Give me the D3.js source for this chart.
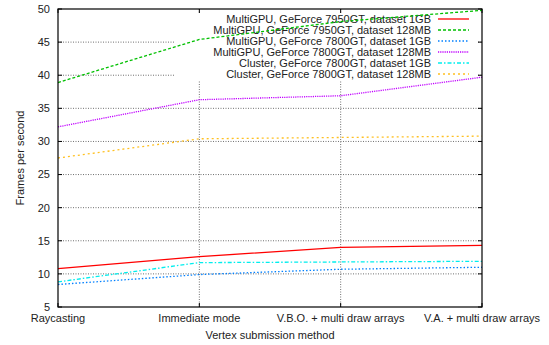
<!DOCTYPE html>
<html>
<head>
<meta charset="utf-8">
<script src="https://cdn.jsdelivr.net/npm/d3@7"></script>
<style>
  body { margin: 0; background: #fff; }
  svg { display: block; font-family: "Liberation Sans", Arial, sans-serif; }
  .line { fill: none; }
</style>
</head>
<body>
<svg></svg>
<script>
// categories on the x axis
var methods = ["Raycasting", "Immediate mode", "V.B.O. + multi draw arrays", "V.A. + multi draw arrays"];

// frames per second
var multi7950_1GB   = [10.8, 12.6, 14.0, 14.3];
var multi7950_128MB = [38.9, 45.4, 48.1, 49.8];
var multi7800_1GB   = [8.4, 9.9, 10.7, 11.0];
var multi7800_128MB = [32.2, 36.3, 36.9, 39.7];
var cluster_1GB     = [8.8, 11.7, 11.8, 11.9];
var cluster_128MB   = [27.5, 30.4, 30.6, 30.8];

var seriesNames = [
  "MultiGPU, GeForce 7950GT, dataset 1GB",
  "MultiGPU, GeForce 7950GT, dataset 128MB",
  "MultiGPU, GeForce 7800GT, dataset 1GB",
  "MultiGPU, GeForce 7800GT, dataset 128MB",
  "Cluster, GeForce 7800GT, dataset 1GB",
  "Cluster, GeForce 7800GT, dataset 128MB"
];
var yTicks = [5, 10, 15, 20, 25, 30, 35, 40, 45, 50];

var series = [multi7950_1GB, multi7950_128MB, multi7800_1GB, multi7800_128MB, cluster_1GB, cluster_128MB];
var colors = ["#ff0000", "#00c000", "#0080ff", "#c000ff", "#00eeee", "#ffc020"];
var dashes = [null, "3,2", "1.5,2", "1.2,1", "4,2,1.5,2", "2,3"];

var svgWidth = 549, svgHeight = 345;
var margin = { top: 9, right: 67, bottom: 38, left: 58 };
var width = svgWidth - margin.left - margin.right;
var height = svgHeight - margin.top - margin.bottom;

var svg = d3.select("svg")
  .attr("width", svgWidth)
  .attr("height", svgHeight);

var g = svg.append("g")
  .attr("transform", "translate(" + margin.left + "," + margin.top + ")");

var x = d3.scalePoint().domain(methods).range([0, width]);
var y = d3.scaleLinear().domain([5, 50]).range([height, 0]);

// grid
g.append("g")
  .selectAll("line")
  .data(yTicks.slice(1, -1))
  .enter().append("line")
  .attr("x1", 0).attr("x2", width)
  .attr("y1", d => y(d)).attr("y2", d => y(d))
  .attr("stroke", "#707070")
  .attr("stroke-width", 1)
  .attr("stroke-dasharray", "1,1.5");

g.append("g")
  .selectAll("line")
  .data(methods.slice(1, -1))
  .enter().append("line")
  .attr("x1", d => x(d)).attr("x2", d => x(d))
  .attr("y1", 0).attr("y2", height)
  .attr("stroke", "#707070")
  .attr("stroke-width", 1)
  .attr("stroke-dasharray", "1,1.5");

// ticks, mirrored on all four sides
g.append("g").selectAll("path")
  .data(yTicks)
  .enter().append("path")
  .attr("d", d => "M0," + y(d) + "h4M" + width + "," + y(d) + "h-4")
  .attr("stroke", "#000");
g.append("g").selectAll("path")
  .data(methods)
  .enter().append("path")
  .attr("d", d => "M" + x(d) + "," + height + "v-4M" + x(d) + ",0v4")
  .attr("stroke", "#000");

// legend background covers the grid
var legend = g.append("g");
legend.append("rect")
  .attr("x", 117).attr("y", 4)
  .attr("width", 303).attr("height", 67)
  .attr("fill", "#fff");

seriesNames.forEach(function(name, i) {
  var ly = 10 + i * 11;
  legend.append("text")
    .attr("x", 373).attr("y", ly)
    .attr("dy", "0.35em")
    .attr("text-anchor", "end")
    .attr("font-size", "11px")
    .attr("fill", "#222")
    .text(name);
  legend.append("line")
    .attr("x1", 380).attr("x2", 411)
    .attr("y1", ly).attr("y2", ly)
    .attr("stroke", colors[i])
    .attr("stroke-width", 1.3)
    .attr("stroke-dasharray", dashes[i]);
});

// data lines
var line = d3.line()
  .x((d, i) => x(methods[i]))
  .y(d => y(d));

series.forEach(function(s, i) {
  g.append("path")
    .datum(s)
    .attr("class", "line")
    .attr("stroke", colors[i])
    .attr("stroke-width", 1.3)
    .attr("stroke-dasharray", dashes[i])
    .attr("d", line);
});

// frame
g.append("rect")
  .attr("width", width).attr("height", height)
  .attr("fill", "none")
  .attr("stroke", "#000")
  .attr("stroke-width", 1.2);

// tick labels
g.append("g").selectAll("text")
  .data(yTicks)
  .enter().append("text")
  .attr("x", -8).attr("y", d => y(d))
  .attr("dy", "0.35em")
  .attr("text-anchor", "end")
  .attr("font-size", "11px")
  .attr("fill", "#222")
  .text(d => d);

g.append("g").selectAll("text")
  .data(methods)
  .enter().append("text")
  .attr("x", d => x(d)).attr("y", height + 15)
  .attr("text-anchor", "middle")
  .attr("font-size", "11px")
  .attr("fill", "#222")
  .text(d => d);

// axis titles
g.append("text")
  .attr("x", width / 2).attr("y", height + 32)
  .attr("text-anchor", "middle")
  .attr("font-size", "11px")
  .attr("fill", "#222")
  .text("Vertex submission method");

g.append("text")
  .attr("transform", "translate(" + (-34) + "," + (height / 2) + ") rotate(-90)")
  .attr("text-anchor", "middle")
  .attr("font-size", "11px")
  .attr("fill", "#222")
  .text("Frames per second");
</script>
</body>
</html>
